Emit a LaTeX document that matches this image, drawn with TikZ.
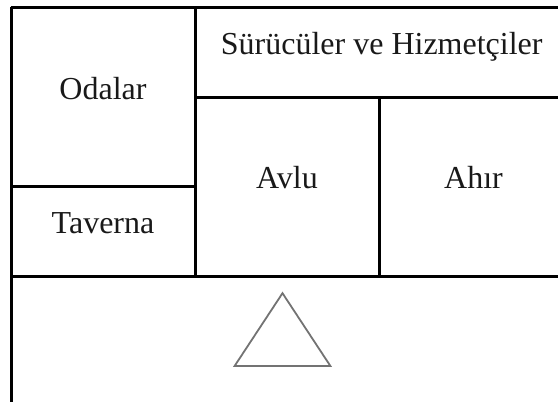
\documentclass[tikz,border=0pt]{standalone}
\usepackage{fontspec}
\setmainfont{Liberation Serif}
\tikzset{
  wall/.style={line width=2.7pt,black,line cap=butt},
  roof/.style={line width=1.8pt,black!55,line join=miter},
  room/.style={inner sep=0pt,anchor=base,font=\fontsize{32}{36}\selectfont,text=black!90}
}
\begin{document}
\begin{tikzpicture}[x=1pt,y=-1pt]
\useasboundingbox (0,0) rectangle (558,402);
\coordinate (tl) at (11.8,7.3);
\coordinate (tr) at (558,7.3);
\coordinate (bl) at (11.8,402);
\coordinate (ml) at (10.5,276.3);
\coordinate (mr) at (558,276.3);
\coordinate (a1) at (195.5,6);
\coordinate (a2) at (195.5,276.3);
\coordinate (b1) at (195.5,97.3);
\coordinate (b2) at (558,97.3);
\coordinate (c1) at (11.8,186.3);
\coordinate (c2) at (195.5,186.3);
\coordinate (d1) at (379.5,97.3);
\coordinate (d2) at (379.5,276.3);
\draw[wall] (10.5,7.3) -- (tr);
\draw[wall] (tl) -- (bl);
\draw[wall] (ml) -- (mr);
\draw[wall] (a1) -- (a2);
\draw[wall] (b1) -- (b2);
\draw[wall] (c1) -- (c2);
\draw[wall] (d1) -- (d2);
\draw[roof] (234.6,366) -- (282.5,293.2) -- (330.4,366) -- cycle;
\node[room] (odalar) at (103,99.7) {Odalar};
\node[room] (taverna) at (103,233.5) {Taverna};
\node[room] (surucu) at (381.7,54.7) {Sürücüler ve Hizmetçiler};
\node[room] (avlu) at (287,188) {Avlu};
\node[room] (ahir) at (473.5,188) {Ahır};
\end{tikzpicture}
\end{document}
